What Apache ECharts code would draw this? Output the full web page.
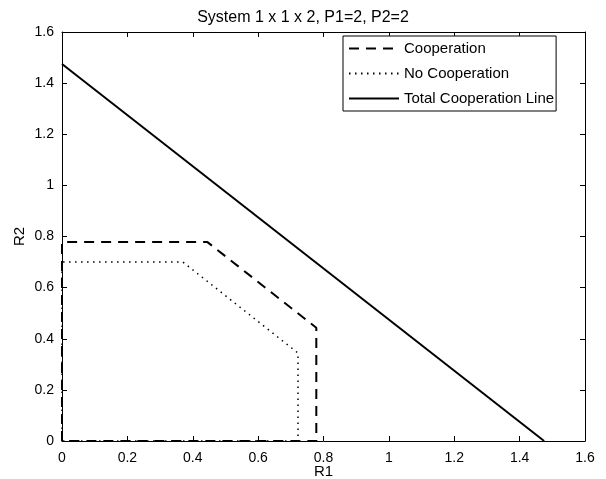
<!DOCTYPE html>
<html>
<head>
<meta charset="utf-8">
<script src="https://cdn.jsdelivr.net/npm/echarts@6/dist/echarts.min.js"></script>
<style>
  html, body { margin: 0; padding: 0; background: #fff; }
  #chart { width: 606px; height: 479px; }
</style>
</head>
<body>
<div id="chart"></div>
<script>
// region vertices, [R1, R2]
var coopPts = [[0, 0], [0, 0.778], [0.445, 0.778], [0.778, 0.443], [0.778, 0], [0, 0]];
var noCoopPts = [[0, 0], [0, 0.70], [0.37, 0.70], [0.722, 0.344], [0.722, 0], [0, 0]];
var totalPts = [[0, 1.475], [1.475, 0]];
var seriesNames = ['Cooperation', 'No Cooperation', 'Total Cooperation Line'];

var fontName = 'Liberation Sans';
var chart = echarts.init(document.getElementById('chart'));

function axisBase(pos, showLabel, margin) {
    return {
        type: 'value',
        position: pos,
        min: 0,
        max: 1.6,
        interval: 0.2,
        axisLine: {show: true, onZero: false, lineStyle: {color: '#000', width: 1}},
        axisTick: {show: true, inside: true, length: 5, lineStyle: {color: '#000'}},
        splitLine: {show: false},
        axisLabel: {show: showLabel, color: '#000', fontFamily: fontName, fontSize: 14, margin: margin || 8}
    };
}

var xBottom = axisBase('bottom', true, 10);
xBottom.name = 'R1';
xBottom.nameLocation = 'middle';
xBottom.nameGap = 23;
xBottom.nameMoveOverlap = false;
xBottom.nameTextStyle = {color: '#000', fontFamily: fontName, fontSize: 15};
var yLeft = axisBase('left', true, 8);
yLeft.name = 'R2';
yLeft.nameLocation = 'middle';
yLeft.nameGap = 35;
yLeft.nameMoveOverlap = false;
yLeft.nameTextStyle = {color: '#000', fontFamily: fontName, fontSize: 15};

chart.setOption({
    animation: false,
    backgroundColor: '#fff',
    title: {
        text: 'System 1 x 1 x 2, P1=2, P2=2',
        left: 'center',
        top: 5,
        textStyle: {color: '#000', fontFamily: fontName, fontSize: 16, fontWeight: 'normal'}
    },
    grid: {left: 62, right: 21, top: 32, bottom: 38, containLabel: false, outerBoundsMode: 'none'},
    legend: {
        orient: 'vertical',
        left: 343,
        top: 36,
        data: seriesNames,
        itemWidth: 50,
        itemHeight: 10,
        itemGap: 10,
        padding: [5, 2, 5, 5],
        borderColor: '#000',
        borderWidth: 1,
        backgroundColor: '#fff',
        itemStyle: {opacity: 0},
        textStyle: {color: '#000', fontFamily: fontName, fontSize: 15},
        selectedMode: false
    },
    xAxis: [xBottom, axisBase('top', false)],
    yAxis: [yLeft, axisBase('right', false)],
    series: [{
        name: seriesNames[0],
        type: 'line',
        data: coopPts,
        symbol: 'none',
        color: '#000',
        lineStyle: {color: '#000', width: 2, type: [10, 7]}
    }, {
        name: seriesNames[1],
        type: 'line',
        data: noCoopPts,
        symbol: 'none',
        color: '#000',
        lineStyle: {color: '#000', width: 1.5, type: [1.5, 4.5]}
    }, {
        name: seriesNames[2],
        type: 'line',
        data: totalPts,
        symbol: 'none',
        color: '#000',
        lineStyle: {color: '#000', width: 2, type: 'solid'}
    }]
});
</script>
</body>
</html>
